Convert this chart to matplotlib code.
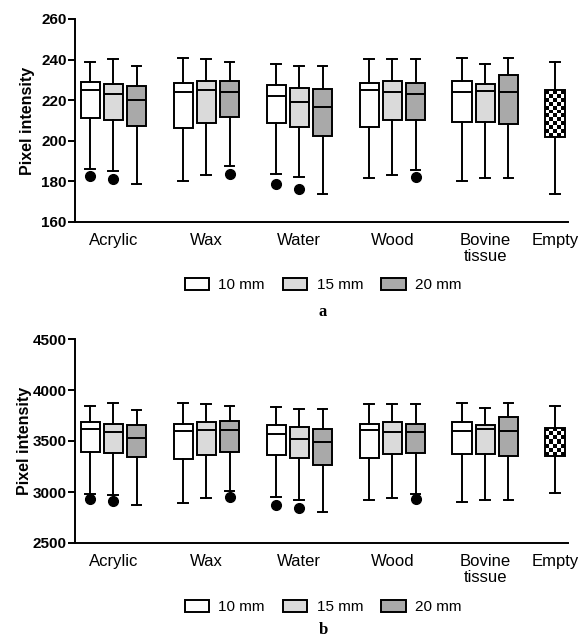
import numpy as np
import matplotlib
matplotlib.use('Agg')
import matplotlib.pyplot as plt
from matplotlib.patches import Patch

plt.rcParams['font.family'] = ['Liberation Sans', 'DejaVu Sans']

#Categories
materials = ['Acrylic', 'Wax', 'Water', 'Wood', 'Bovine\ntissue', 'Empty']
sizes = ['10 mm', '15 mm', '20 mm']
size_colors = ['white', '#dadada', '#a9a9a9']

#Box order: Acrylic 10/15/20, Wax 10/15/20, Water 10/15/20, Wood 10/15/20, Bovine 10/15/20, Empty
#Panel a
a_hi  = [239, 240.5, 237, 241, 240.5, 239, 238, 237, 237, 240.5, 240.5, 240.5, 241, 238, 241, 239]
a_q3  = [229, 228, 227, 228.5, 229.5, 229.5, 227.5, 226, 225.5, 228.5, 229.5, 228.5, 229.5, 228, 232.5, 225]
a_med = [225, 223, 220, 224, 225, 224, 222, 219, 216.5, 225, 224, 223, 224, 224.5, 224, 220]
a_q1  = [211, 210, 207.5, 206.5, 209, 211.5, 209, 207, 202.5, 207, 210, 210, 209.5, 209.5, 208.5, 202]
a_lo  = [186, 185, 178.5, 180, 183, 187.5, 183.5, 182, 174, 181.5, 183, 185.5, 180, 181.5, 181.5, 174]
a_fliers = {0: [182.5], 1: [181], 5: [183.5], 6: [178.5], 7: [176.5], 11: [182]}

#Panel b
b_hi  = [3845, 3868, 3806, 3875, 3859, 3845, 3829, 3813, 3813, 3865, 3865, 3865, 3872, 3819, 3875, 3839]
b_q3  = [3684, 3665, 3655, 3665, 3688, 3694, 3658, 3638, 3622, 3671, 3684, 3668, 3691, 3661, 3740, 3630]
b_med = [3619, 3586, 3533, 3602, 3612, 3605, 3569, 3523, 3487, 3612, 3589, 3586, 3602, 3619, 3602, 3590]
b_q1  = [3388, 3378, 3342, 3322, 3362, 3395, 3365, 3329, 3263, 3336, 3372, 3378, 3372, 3369, 3355, 3350]
b_lo  = [2977, 2971, 2869, 2895, 2941, 3010, 2954, 2925, 2803, 2918, 2944, 2984, 2898, 2925, 2918, 2987]
b_fliers = {0: [2934], 1: [2911], 5: [2954], 6: [2875], 7: [2839], 11: [2934]}

positions = [0, 1, 2, 4, 5, 6, 8, 9, 10, 12, 13, 14, 16, 17, 18, 20]
group_ticks = [1, 5, 9, 13, 17, 20]

W, H = 586, 639
fig = plt.figure(figsize=(W/100, H/100), dpi=100)
ax_a = fig.add_axes([75/W, 1-222/H, 493/W, 203/H])
ax_b = fig.add_axes([75/W, 1-543/H, 493/W, 204/H])


def draw_panel(ax, lo, q1, med, q3, hi, fliers, ylim, yticks, label_x):
    stats = []
    for i in range(len(positions)):
        stats.append(dict(whislo=lo[i], q1=q1[i], med=med[i], q3=q3[i],
                          whishi=hi[i], fliers=fliers.get(i, [])))
    bp = ax.bxp(stats, positions=positions, widths=0.82, capwidths=0.42,
                patch_artist=True, manage_ticks=False,
                boxprops=dict(edgecolor='black', linewidth=1.4),
                medianprops=dict(color='black', linewidth=1.4),
                whiskerprops=dict(color='black', linewidth=1.4),
                capprops=dict(color='black', linewidth=1.4),
                flierprops=dict(marker='o', markerfacecolor='black',
                                markeredgecolor='black', markersize=7))
    for i, box in enumerate(bp['boxes'][:-1]):
        box.set_facecolor(size_colors[i % 3])

    ax.set_xlim(-0.65, 20.56)
    ax.set_ylim(*ylim)
    ax.set_yticks(yticks)
    ax.set_xticks(group_ticks)
    ax.set_xticklabels(materials, fontsize=12, linespacing=1.05)
    ax.tick_params(axis='x', length=0, pad=8)
    ax.tick_params(axis='y', length=5, width=1.4, pad=1, labelsize=11)
    for t in ax.get_yticklabels():
        t.set_fontweight('bold')
    ax.set_ylabel('Pixel intensity', fontsize=11.5, fontweight='bold')
    ax.yaxis.set_label_coords(label_x, 0.5)
    for s in ['top', 'right']:
        ax.spines[s].set_visible(False)
    for s in ['left', 'bottom']:
        ax.spines[s].set_linewidth(1.4)

    #checker pattern for the Empty box
    box = bp['boxes'][-1]
    ext = box.get_path().get_extents()
    p0 = ax.transData.transform((ext.x0, ext.y0))
    p1 = ax.transData.transform((ext.x1, ext.y1))
    ncols = 5
    cell = (p1[0]-p0[0])/ncols
    nrows = max(1, int(round((p1[1]-p0[1])/cell)))
    checker = np.indices((nrows, ncols)).sum(axis=0) % 2
    im = ax.imshow(checker, cmap='gray', extent=[ext.x0, ext.x1, ext.y0, ext.y1],
                   aspect='auto', interpolation='nearest', zorder=2.5)
    im.set_clip_path(box)
    box.set_facecolor('none')
    box.set_zorder(3)
    ax.set_xlim(-0.65, 20.56)
    ax.set_ylim(*ylim)


draw_panel(ax_a, a_lo, a_q1, a_med, a_q3, a_hi, a_fliers, (160, 260),
           [160, 180, 200, 220, 240, 260], -0.081)
draw_panel(ax_b, b_lo, b_q1, b_med, b_q3, b_hi, b_fliers, (2500, 4500),
           [2500, 3000, 3500, 4000, 4500], -0.087)

handles = [Patch(facecolor=c, edgecolor='black', linewidth=1.4) for c in size_colors]
for yl, yt, letter in [(285, 312, 'a'), (607, 630, 'b')]:
    fig.legend(handles, sizes, ncol=3, loc='center', bbox_to_anchor=(323/W, 1-yl/H),
               frameon=False, fontsize=11, handlelength=1.6, handleheight=0.9,
               handletextpad=0.6, columnspacing=1.2, borderpad=0)
    fig.text(323/W, 1-yt/H, letter, fontfamily='Liberation Serif', fontweight='bold',
             fontsize=12, ha='center', va='center')

plt.savefig('out.png', dpi=100)
